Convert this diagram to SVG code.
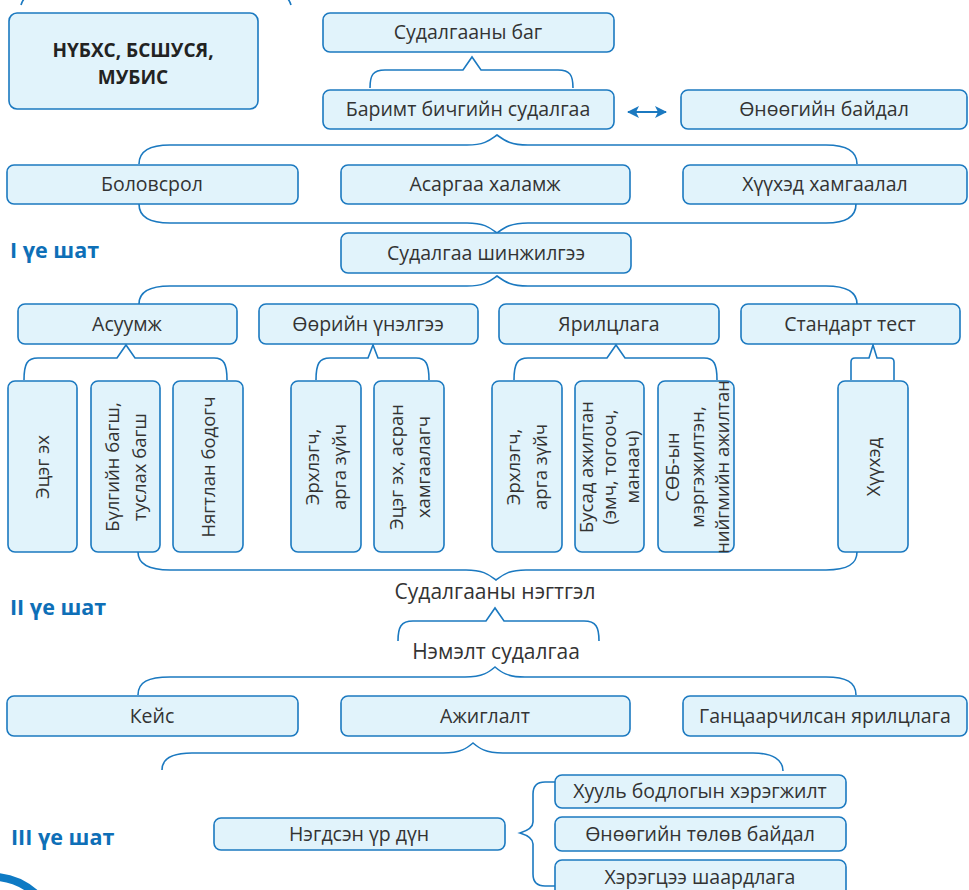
<svg xmlns="http://www.w3.org/2000/svg" width="969" height="890" viewBox="0 0 969 890">
<defs>
<style>
.box{fill:#e1f3fb;stroke:#1b79c0;stroke-width:1.6}
.t{font-family:"Open Sans","Noto Sans","DejaVu Sans",sans-serif;font-size:19.5px;fill:#333;text-anchor:middle}
.vt{font-family:"Open Sans","Noto Sans","DejaVu Sans",sans-serif;font-size:18.5px;fill:#333;text-anchor:middle}
.bt{font-family:"Open Sans","Noto Sans","DejaVu Sans",sans-serif;font-size:19px;font-weight:bold;fill:#222;text-anchor:middle}
.st{font-family:"Open Sans","Noto Sans","DejaVu Sans",sans-serif;font-size:21.5px;font-weight:bold;fill:#0e6fb7}
.br{fill:none;stroke:#1b79c0;stroke-width:1.6}
</style>
<marker id="ah" viewBox="0 0 12 12" refX="11" refY="6" markerWidth="12" markerHeight="12" markerUnits="userSpaceOnUse" orient="auto-start-reverse">
<path d="M0 0 L12 6 L0 12 L3 6 Z" fill="#1b79c0"/>
</marker>
</defs>

<g id="connectors">
<path class="br" d="M21 5 Q22 1 25 -2"/>
<path class="br" d="M287 -2 Q290 1 291 5"/>
<path class="br" d="M370 88 C370 75 373 70 385 70 L463 70 L472 57 L481 70 L558 70 C570 70 573 75 573 88"/>
<path class="br" d="M139 164 C139 151 150 145 170 145 L467 145 C485 145 490 140 497 135 C504 140 510 145 528 145 L826 145 C846 145 857 151 857 164"/>
<path class="br" d="M139 204 C139 217 150 223 170 223 L467 223 C485 223 490 228 497 233 C504 228 510 223 528 223 L826 223 C846 223 856 217 856 204"/>
<path class="br" d="M139 304 C139 292 150 286 170 286 L467 286 C485 286 490 281 497 276 C504 281 510 286 528 286 L826 286 C846 286 857 292 857 304"/>
<path class="br" d="M24 380 C24 364 27 358 38 358 L117 358 L126 345 L135 358 L214 358 C224 358 227 364 227 380"/>
<path class="br" d="M316 380 C316 364 319 358 330 358 L368 358 L373 345 L378 358 L416 358 C426 358 429 364 429 380"/>
<path class="br" d="M514 380 C514 364 517 358 528 358 L607 358 L616 345 L625 358 L704 358 C714 358 717 364 717 380"/>
<path class="br" d="M851 380 L851 362 Q851 358 855 358 L869 358 L873 345 L877 358 L890 358 Q894 358 894 362 L894 380"/>
<path class="br" d="M138 552 C138 564 148 570 170 570 L466 570 C484 570 489 575 496 580 C503 575 508 570 526 570 L826 570 C848 570 857 564 857 552"/>
<path class="br" d="M398 641 C398 627 401 621 413 621 L486 621 L495 608 L504 621 L584 621 C596 621 599 627 599 641"/>
<path class="br" d="M138 695 C138 682 148 677 170 677 L465 677 C483 677 489 672 495 667 C501 672 507 677 525 677 L826 677 C846 677 856 682 856 695"/>
<path class="br" d="M162 770 C162 758 172 753 192 753 L443 753 C461 753 467 748 473 743 C479 748 485 753 503 753 L753 753 C773 753 783 760 783 771"/>
<path class="br" d="M555 782 L545 782 Q533 782 533 794 L533 822 Q533 829 520 833 Q533 837 533 844 L533 874 Q533 886 545 886 L555 886"/>
<line x1="628" y1="112" x2="666" y2="112" stroke="#1b79c0" stroke-width="2" marker-start="url(#ah)" marker-end="url(#ah)"/>
<path d="M-2 877 Q20 879 37 895" fill="none" stroke="#0e7ac4" stroke-width="8"/>
</g>

<g id="labels">
<text class="st" x="10" y="258">I үе шат</text>
<text class="st" x="10" y="615">II үе шат</text>
<text class="st" x="11" y="845">III үе шат</text>
<text id="negtgel" class="t" x="495" y="599" style="font-size:21px">Судалгааны нэгтгэл</text>
<text id="nemelt" class="t" x="496" y="659" style="font-size:21px">Нэмэлт судалгаа</text>
</g>

<g id="n-nubhs"><rect class="box" x="9" y="13" width="249" height="96" rx="8"/>
<text class="bt"><tspan x="133" y="57">НҮБХС, БСШУСЯ,</tspan><tspan x="133" y="83.5">МУБИС</tspan></text></g>
<g id="n-sudalgaany-bag"><rect class="box" x="323" y="13" width="291" height="39" rx="7"/><text class="t" x="468" y="39">Судалгааны баг</text></g>
<g id="n-barimt"><rect class="box" x="323" y="90" width="291" height="39" rx="7"/><text class="t" x="468" y="116">Баримт бичгийн судалгаа</text></g>
<g id="n-onoogiin"><rect class="box" x="681" y="90" width="286" height="39" rx="7"/><text class="t" x="824" y="116">Өнөөгийн байдал</text></g>
<g id="n-bolovsrol"><rect class="box" x="7" y="165" width="291" height="39" rx="7"/><text class="t" x="152" y="191">Боловсрол</text></g>
<g id="n-asargaa"><rect class="box" x="341" y="165" width="289" height="39" rx="7"/><text class="t" x="485" y="191">Асаргаа халамж</text></g>
<g id="n-huuhed-hamgaalal"><rect class="box" x="683" y="165" width="284" height="39" rx="7"/><text class="t" x="825" y="191">Хүүхэд хамгаалал</text></g>
<g id="n-shinjilgee"><rect class="box" x="341" y="233" width="290" height="40" rx="7"/><text class="t" x="486" y="260">Судалгаа шинжилгээ</text></g>
<g id="n-asuumj"><rect class="box" x="18" y="304" width="219" height="40" rx="7"/><text class="t" x="127" y="331">Асуумж</text></g>
<g id="n-ooriin"><rect class="box" x="259" y="304" width="219" height="40" rx="7"/><text class="t" x="368" y="331">Өөрийн үнэлгээ</text></g>
<g id="n-yariltslaga"><rect class="box" x="499" y="304" width="220" height="40" rx="7"/><text class="t" x="609" y="331">Ярилцлага</text></g>
<g id="n-standart"><rect class="box" x="741" y="304" width="219" height="40" rx="7"/><text class="t" x="850" y="331">Стандарт тест</text></g>

<g id="n-etseg-eh"><rect class="box" x="8" y="381" width="69" height="171" rx="7"/>
<text class="vt" transform="translate(42.5 467) rotate(-90)"><tspan x="0" y="6.5">Эцэг эх</tspan></text></g>
<g id="n-bulgiin"><rect class="box" x="91" y="381" width="69" height="171" rx="7"/>
<text class="vt" transform="translate(125.5 467) rotate(-90)"><tspan x="0" y="-7">Бүлгийн багш,</tspan><tspan x="0" y="20">туслах багш</tspan></text></g>
<g id="n-nyagtlan"><rect class="box" x="173" y="381" width="70" height="171" rx="7"/>
<text class="vt" transform="translate(208 467) rotate(-90)"><tspan x="0" y="6.5">Нягтлан бодогч</tspan></text></g>
<g id="n-erhlegch1"><rect class="box" x="291" y="381" width="70" height="171" rx="7"/>
<text class="vt" transform="translate(326 467) rotate(-90)"><tspan x="0" y="-7">Эрхлэгч,</tspan><tspan x="0" y="20">арга зүйч</tspan></text></g>
<g id="n-etseg-asran"><rect class="box" x="374" y="381" width="70" height="171" rx="7"/>
<text class="vt" transform="translate(409 467) rotate(-90)"><tspan x="0" y="-6">Эцэг эх, асран</tspan><tspan x="0" y="21">хамгаалагч</tspan></text></g>
<g id="n-erhlegch2"><rect class="box" x="492" y="381" width="70" height="171" rx="7"/>
<text class="vt" transform="translate(527 467) rotate(-90)"><tspan x="0" y="-7">Эрхлэгч,</tspan><tspan x="0" y="20">арга зүйч</tspan></text></g>
<g id="n-busad"><rect class="box" x="575" y="381" width="69" height="171" rx="7"/>
<text class="vt" transform="translate(609.5 467) rotate(-90)"><tspan x="0" y="-16.5">Бусад ажилтан</tspan><tspan x="0" y="6.5">(эмч, тогооч,</tspan><tspan x="0" y="29.5">манаач)</tspan></text></g>
<g id="n-sob"><rect class="box" x="658" y="381" width="76" height="171" rx="7"/>
<text class="vt" transform="translate(697 467) rotate(-90)"><tspan x="0" y="-18.5">СӨБ-ын</tspan><tspan x="0" y="6.5">мэргэжилтэн,</tspan><tspan x="0" y="31.5">нийгмийн ажилтан</tspan></text></g>
<g id="n-huuhed"><rect class="box" x="838" y="381" width="70" height="171" rx="7"/>
<text class="vt" transform="translate(873 467) rotate(-90)"><tspan x="0" y="6.5">Хүүхэд</tspan></text></g>

<g id="n-keis"><rect class="box" x="7" y="696" width="291" height="40" rx="7"/><text class="t" x="152" y="723">Кейс</text></g>
<g id="n-ajiglalt"><rect class="box" x="341" y="696" width="289" height="40" rx="7"/><text class="t" x="485" y="723">Ажиглалт</text></g>
<g id="n-gantsaarchilsan"><rect class="box" x="683" y="696" width="284" height="40" rx="7"/><text class="t" x="825" y="723">Ганцаарчилсан ярилцлага</text></g>
<g id="n-negdsen"><rect class="box" x="214" y="818" width="291" height="32" rx="7"/><text class="t" x="359" y="841">Нэгдсэн үр дүн</text></g>
<g id="n-huul"><rect class="box" x="555" y="775" width="291" height="33" rx="7"/><text class="t" x="700" y="798">Хууль бодлогын хэрэгжилт</text></g>
<g id="n-tolov"><rect class="box" x="555" y="817" width="291" height="34" rx="7"/><text class="t" x="700" y="841">Өнөөгийн төлөв байдал</text></g>
<g id="n-heregtsee"><rect class="box" x="555" y="860" width="291" height="40" rx="7"/><text class="t" x="700" y="884">Хэрэгцээ шаардлага</text></g>
</svg>
